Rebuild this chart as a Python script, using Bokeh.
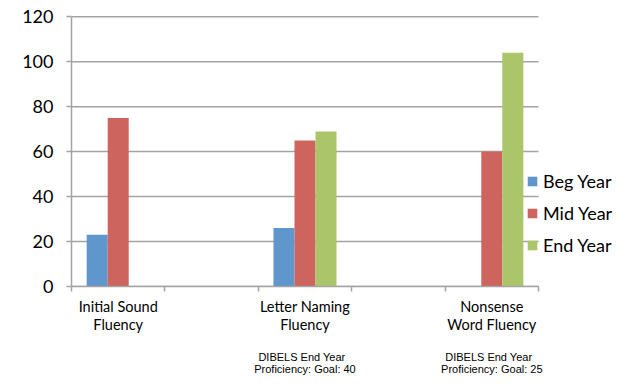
import numpy as np
from bokeh.plotting import figure
from bokeh.models import (Range1d, FixedTicker, Legend, LegendItem, LinearAxis,
                          ColumnDataSource)
from bokeh.embed import file_html
from bokeh.resources import INLINE

# ---- data -------------------------------------------------------------
categories = ["Initial Sound\nFluency", "", "Letter Naming\nFluency", "",
              "Nonsense\nWord Fluency"]
beg_year = [23, None, 26, None, None]
mid_year = [75, None, 65, None, 60]
end_year = [None, None, 69, None, 104]
notes = ["", "", "DIBELS End Year  \nProficiency: Goal: 40", "",
         "  DIBELS End Year\nProficiency: Goal: 25"]
series_names = ["Beg Year", "Mid Year", "End Year"]
series_colors = ["#5F96CB", "#CD645E", "#ABC56A"]
y_ticks = [0, 20, 40, 60, 80, 100, 120]

# ---- layout -----------------------------------------------------------
n = len(categories)
W, H = 630, 388
left, top, right = 71, 14, 4
frame_w = W - left - right
cat_px = 93.4                       # pixels per category slot
x_end = frame_w / cat_px            # extra room on the right for the legend
y_end = 121

p = figure(width=W, height=H, output_backend="svg", toolbar_location=None,
           x_range=Range1d(0, x_end), y_range=Range1d(0, y_end),
           min_border_left=left, min_border_right=right, min_border_top=top,
           min_border_bottom=102)
p.outline_line_color = None
p.background_fill_color = "white"
p.border_fill_color = "white"

grid_col = "#A3A3A3"
font_main = "Lato"

# gridlines spanning only the category area
p.segment(x0=[0] * len(y_ticks), x1=[n] * len(y_ticks), y0=y_ticks, y1=y_ticks,
          line_color=grid_col, line_width=1.5)

centers = np.arange(n) + 0.5
bar_w = 0.225
offsets = [-bar_w, 0.0, bar_w]
renderers = []
for vals, off, col in zip([beg_year, mid_year, end_year], offsets, series_colors):
    tp = np.array([np.nan if v is None else v for v in vals], dtype=float)
    src = ColumnDataSource(dict(x=centers + off, top=tp))
    r = p.vbar(x="x", top="top", bottom=0, width=bar_w, source=src,
               fill_color=col, line_color=None)
    renderers.append(r)

# y axis
p.yaxis.ticker = FixedTicker(ticks=y_ticks)
p.yaxis.bounds = (0, 120)
p.yaxis.axis_line_color = grid_col
p.yaxis.axis_line_width = 1.5
p.yaxis.major_tick_line_color = grid_col
p.yaxis.major_tick_line_width = 1.5
p.yaxis.major_tick_out = 5
p.yaxis.major_tick_in = 0
p.yaxis.minor_tick_line_color = None
p.yaxis.major_label_text_font = font_main
p.yaxis.major_label_text_font_size = "18px"
p.yaxis.major_label_text_color = "black"
p.yaxis.major_label_standoff = 13

# x axis
p.xaxis.ticker = FixedTicker(ticks=list(centers), minor_ticks=list(range(n + 1)))
p.xaxis.bounds = (0, n)
p.xaxis.major_label_overrides = {float(c): lab for c, lab in zip(centers, categories)}
p.xaxis.axis_line_color = grid_col
p.xaxis.axis_line_width = 1.5
p.xaxis.major_tick_line_color = None
p.xaxis.minor_tick_line_color = grid_col
p.xaxis.minor_tick_line_width = 1.5
p.xaxis.minor_tick_out = 5
p.xaxis.minor_tick_in = 0
p.xaxis.major_label_text_font = font_main
p.xaxis.major_label_text_font_size = "14.5px"
p.xaxis.major_label_text_color = "black"
p.xaxis.major_label_text_line_height = 1.1
p.xaxis.major_label_standoff = 5

# notes axis below the category labels
note_axis = LinearAxis(ticker=FixedTicker(ticks=list(centers)),
                       major_label_overrides={float(c): t for c, t in zip(centers, notes)},
                       axis_line_color=None, major_tick_line_color=None,
                       minor_tick_line_color=None, major_label_standoff=8,
                       major_label_text_font="Liberation Sans",
                       major_label_text_font_size="11px",
                       major_label_text_color="black",
                       major_label_text_line_height=1.08)
p.add_layout(note_axis, "below")

p.xgrid.grid_line_color = None
p.ygrid.grid_line_color = None

legend = Legend(items=[LegendItem(label=nm, renderers=[r])
                       for nm, r in zip(series_names, renderers)],
                location=(455, 30), orientation="vertical",
                glyph_width=12, glyph_height=12, label_height=12,
                label_standoff=5, spacing=10, padding=0, margin=0,
                border_line_color=None, background_fill_alpha=0,
                label_text_font=font_main, label_text_font_size="18px",
                label_text_color="black")
p.add_layout(legend, "center")

open("out.html", "w").write(file_html(p, INLINE))
